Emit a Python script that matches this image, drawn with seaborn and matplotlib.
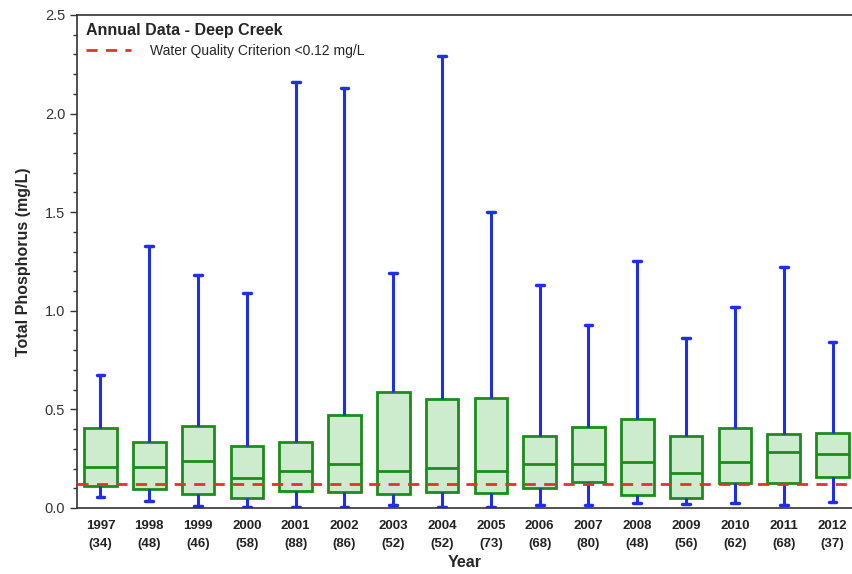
import numpy as np
import pandas as pd
import matplotlib
matplotlib.use("Agg")
import matplotlib.pyplot as plt
from matplotlib.ticker import MultipleLocator, FixedLocator, FormatStrFormatter
from matplotlib.lines import Line2D
import seaborn as sns

years = ["1997", "1998", "1999", "2000", "2001", "2002", "2003", "2004",
         "2005", "2006", "2007", "2008", "2009", "2010", "2011", "2012"]
counts = [34, 48, 46, 58, 88, 86, 52, 52, 73, 68, 80, 48, 56, 62, 68, 37]
mins = [0.057, 0.034, 0.008, 0.006, 0.006, 0.006, 0.015, 0.006,
        0.006, 0.017, 0.015, 0.027, 0.02, 0.024, 0.015, 0.029]
q1s = [0.113, 0.098, 0.071, 0.051, 0.086, 0.080, 0.069, 0.081,
       0.078, 0.100, 0.130, 0.066, 0.051, 0.127, 0.128, 0.156]
medians = [0.208, 0.208, 0.238, 0.152, 0.186, 0.223, 0.186, 0.201,
           0.186, 0.225, 0.225, 0.232, 0.179, 0.232, 0.286, 0.272]
q3s = [0.407, 0.333, 0.416, 0.314, 0.336, 0.470, 0.590, 0.553,
       0.556, 0.365, 0.412, 0.453, 0.365, 0.407, 0.374, 0.380]
maxs = [0.674, 1.33, 1.18, 1.09, 2.16, 2.13, 1.19, 2.29,
        1.50, 1.13, 0.93, 1.25, 0.86, 1.02, 1.22, 0.84]
criterion = 0.12
tick_labels = [f"{y}\n({n})" for y, n in zip(years, counts)]

rows = []
for i, y in enumerate(years):
    for v in (mins[i], q1s[i], medians[i], q3s[i], maxs[i]):
        rows.append({"Year": y, "TP": v})
df = pd.DataFrame(rows)

sns.set_style("white")
plt.rcParams["font.family"] = ["Liberation Sans", "DejaVu Sans"]

fig = plt.figure(figsize=(8.53, 5.74), dpi=100)
ax = fig.add_axes([0.0903, 0.115, 0.9097, 0.859])

green = "#1c8c1c"
blue = "#1f2fe6"
sns.boxplot(data=df, x="Year", y="TP", order=years, whis=(0, 100),
            width=0.67, ax=ax, linewidth=2,
            boxprops=dict(facecolor="#cdeccd", edgecolor=green, linewidth=2),
            medianprops=dict(color=green, linewidth=2),
            whiskerprops=dict(color=blue, linewidth=2.2),
            capprops=dict(color=blue, linewidth=2.5),
            showfliers=False)

# narrow caps
for line in ax.lines:
    xd = np.asarray(line.get_xdata(), dtype=float)
    yd = np.asarray(line.get_ydata(), dtype=float)
    if line.get_color() == blue and len(xd) == 2 and yd[0] == yd[1] and xd[0] != xd[1]:
        c = xd.mean()
        line.set_xdata([c - 0.08, c + 0.08])

ax.axhline(criterion, color="#e8302a", linestyle=(0, (4, 3)), linewidth=2, zorder=5)

ax.set_xlim(-0.48, 15.42)
ax.set_ylim(0, 2.5)
ax.yaxis.set_major_locator(MultipleLocator(0.5))
ax.yaxis.set_minor_locator(MultipleLocator(0.1))
ax.yaxis.set_major_formatter(FormatStrFormatter("%.1f"))
ax.set_xticks(range(len(years)))
ax.set_xticklabels(tick_labels, fontsize=9.5, fontweight="bold", color="#222222",
                   linespacing=1.6)
ax.xaxis.set_minor_locator(FixedLocator(np.arange(0.5, 15.5, 1)))
ax.tick_params(axis="x", which="major", length=0, pad=9)
ax.tick_params(axis="x", which="minor", length=4, width=1, color="#333333", direction="out")
ax.tick_params(axis="y", which="major", length=5, width=1, labelsize=10.5, color="#333333", labelcolor="#333333")
ax.tick_params(axis="y", which="minor", length=3, width=1, color="#333333", left=True)
ax.tick_params(axis="y", which="both", left=True, direction="out")

for s in ("left", "bottom", "top"):
    ax.spines[s].set_color("#333333")
    ax.spines[s].set_linewidth(1.2)
ax.spines["right"].set_visible(False)

ax.set_xlabel("Year", fontsize=11.5, fontweight="bold", labelpad=4)
ax.set_ylabel("Total Phosphorus (mg/L)", fontsize=11.5, fontweight="bold", labelpad=10)

handle = Line2D([0], [0], color="#e8302a", linestyle=(0, (4, 3)), linewidth=2)
leg = ax.legend([handle], ["Water Quality Criterion <0.12 mg/L"],
                title="Annual Data - Deep Creek", loc="upper left",
                frameon=False, fontsize=10, alignment="left",
                bbox_to_anchor=(-0.004, 1.008), handlelength=3.2, handletextpad=1.4,
                labelspacing=0.3)
leg.get_title().set_fontweight("bold")
leg.get_title().set_fontsize(11.5)
leg._legend_box.sep = 4

fig.savefig("out.png", dpi=100, facecolor="white")
